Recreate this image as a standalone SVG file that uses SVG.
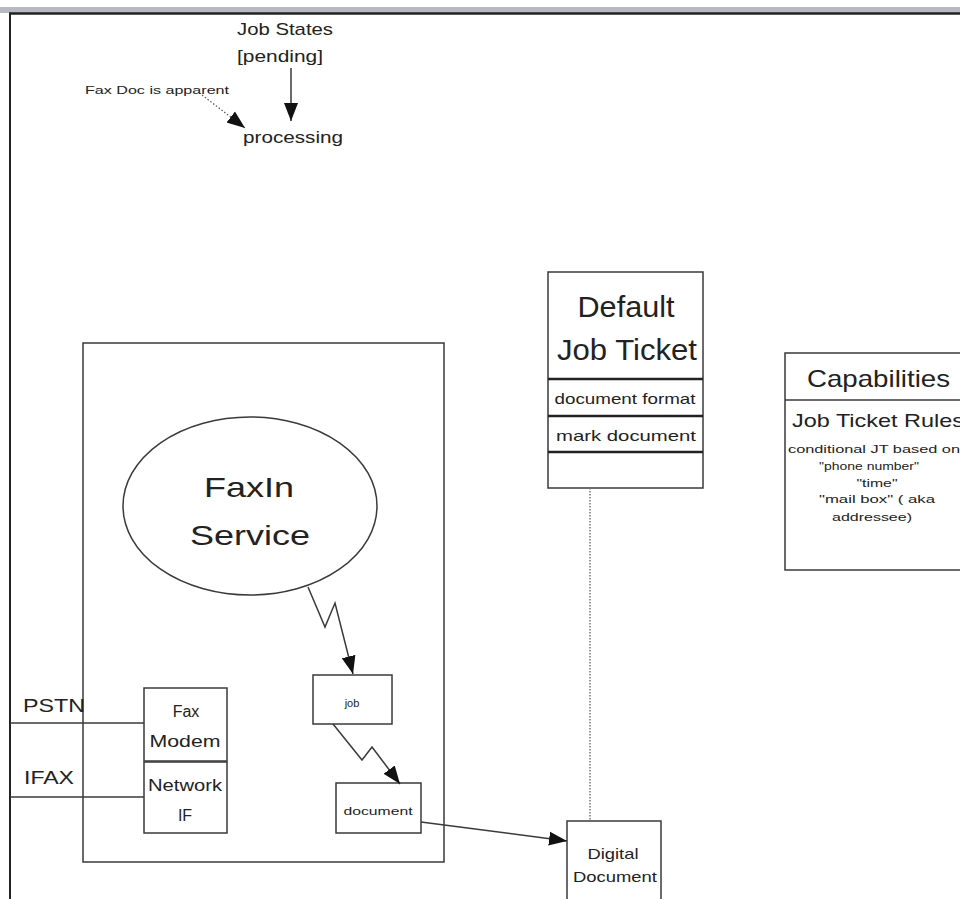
<svg xmlns="http://www.w3.org/2000/svg" width="960" height="899" viewBox="0 0 960 899">
<style>
.ln{fill:none;stroke:#3a3a3a;stroke-width:1.5}
.bx{fill:#fff;stroke:#3a3a3a;stroke-width:1.5}
text{font-family:"Liberation Sans",Arial,sans-serif;fill:#222}
.c{text-anchor:middle}
</style>
<defs>
<marker id="ah" markerUnits="userSpaceOnUse" markerWidth="20" markerHeight="16" refX="18" refY="8" orient="auto">
<path d="M0,1 L18,8 L0,15 Z" fill="#111"/>
</marker>
</defs>
<rect width="960" height="899" fill="#fff"/>
<g id="frame">
<rect x="0" y="7" width="960" height="6" fill="#b8b8c0"/>
<line x1="9" y1="13.5" x2="960" y2="13.5" stroke="#222" stroke-width="2.5"/>
<line x1="10" y1="13" x2="10" y2="899" stroke="#222" stroke-width="2"/>
</g>
<g id="job-states">
<text x="285" y="35" class="c" font-size="17" textLength="96" lengthAdjust="spacingAndGlyphs">Job States</text>
<text x="280" y="62" class="c" font-size="17" textLength="86" lengthAdjust="spacingAndGlyphs">[pending]</text>
<text x="293" y="143" class="c" font-size="17" textLength="100" lengthAdjust="spacingAndGlyphs">processing</text>
</g>
<g id="fax-doc-note">
<text x="157" y="94" class="c" font-size="11" textLength="144" lengthAdjust="spacingAndGlyphs">Fax Doc is apparent</text>
</g>
<g id="outer-service">
<rect x="83" y="343" width="361" height="519" class="bx"/>
</g>
<g id="faxin-service">
<ellipse cx="250" cy="506" rx="127" ry="89" class="bx"/>
<text x="249" y="497" class="c" font-size="28" textLength="90" lengthAdjust="spacingAndGlyphs">FaxIn</text>
<text x="250" y="545" class="c" font-size="28" textLength="120" lengthAdjust="spacingAndGlyphs">Service</text>
</g>
<g id="job">
<rect x="313" y="675" width="79" height="49" class="bx"/>
<text x="352" y="707" class="c" font-size="11">job</text>
</g>
<g id="document">
<rect x="336" y="783" width="85" height="50" class="bx"/>
<text x="378" y="815" class="c" font-size="11" textLength="69" lengthAdjust="spacingAndGlyphs">document</text>
</g>
<g id="fax-modem">
<rect x="144" y="688" width="83" height="73" class="bx"/>
<text x="186" y="717" class="c" font-size="16">Fax</text>
<text x="185" y="747" class="c" font-size="16" textLength="71" lengthAdjust="spacingAndGlyphs">Modem</text>
</g>
<g id="network-if">
<rect x="144" y="762" width="83" height="71" class="bx"/>
<text x="185" y="791" class="c" font-size="16" textLength="74" lengthAdjust="spacingAndGlyphs">Network</text>
<text x="185" y="821" class="c" font-size="16">IF</text>
</g>
<g id="pstn">
<text x="23" y="712" font-size="19" textLength="62" lengthAdjust="spacingAndGlyphs">PSTN</text>
</g>
<g id="ifax">
<text x="24" y="784" font-size="19" textLength="50" lengthAdjust="spacingAndGlyphs">IFAX</text>
</g>
<g id="default-job-ticket">
<rect x="548" y="272" width="155" height="216" class="bx"/>
<line x1="548" y1="379" x2="703" y2="379" stroke="#222" stroke-width="2.5"/>
<line x1="548" y1="416" x2="703" y2="416" stroke="#222" stroke-width="2.5"/>
<line x1="548" y1="452" x2="703" y2="452" stroke="#222" stroke-width="2.5"/>
<text x="626" y="317" class="c" font-size="30" textLength="97" lengthAdjust="spacingAndGlyphs">Default</text>
<text x="627" y="360" class="c" font-size="30" textLength="140" lengthAdjust="spacingAndGlyphs">Job Ticket</text>
<text x="625" y="404" class="c" font-size="15" textLength="141" lengthAdjust="spacingAndGlyphs">document format</text>
<text x="626" y="441" class="c" font-size="15" textLength="140" lengthAdjust="spacingAndGlyphs">mark document</text>
</g>
<g id="capabilities">
<rect x="785" y="353" width="190" height="217" class="bx"/>
<line x1="785" y1="400" x2="960" y2="400" class="ln"/>
<text x="807" y="387" font-size="24" textLength="143" lengthAdjust="spacingAndGlyphs">Capabilities</text>
<text x="792" y="427" font-size="19" textLength="172" lengthAdjust="spacingAndGlyphs">Job Ticket Rules</text>
<text x="788" y="453" font-size="11" textLength="172" lengthAdjust="spacingAndGlyphs">conditional JT based on</text>
<text x="869" y="470" class="c" font-size="11" textLength="100" lengthAdjust="spacingAndGlyphs">"phone number"</text>
<text x="877" y="487" class="c" font-size="11" textLength="41" lengthAdjust="spacingAndGlyphs">"time"</text>
<text x="819" y="503" font-size="11" textLength="116" lengthAdjust="spacingAndGlyphs">"mail box"  ( aka</text>
<text x="832" y="521" font-size="11" textLength="80" lengthAdjust="spacingAndGlyphs">addressee)</text>
</g>
<g id="digital-document">
<rect x="567" y="821" width="94" height="90" class="bx"/>
<text x="613" y="859" class="c" font-size="15" textLength="51" lengthAdjust="spacingAndGlyphs">Digital</text>
<text x="615" y="882" class="c" font-size="15" textLength="84" lengthAdjust="spacingAndGlyphs">Document</text>
</g>
<g id="connectors">
<line x1="291" y1="68" x2="291" y2="121" class="ln" marker-end="url(#ah)"/>
<line x1="202" y1="95" x2="245" y2="128" fill="none" stroke="#555" stroke-width="1.2" stroke-dasharray="1.5,2" marker-end="url(#ah)"/>
<polyline points="308,587 325,627 335,603 353,674" class="ln" marker-end="url(#ah)"/>
<polyline points="333,724 362,760 372,747 400,784" class="ln" marker-end="url(#ah)"/>
<line x1="421" y1="822" x2="567" y2="841" class="ln" marker-end="url(#ah)"/>
<line x1="590" y1="488" x2="590" y2="821" fill="none" stroke="#777" stroke-width="1.5" stroke-dasharray="1.5,1.5"/>
<line x1="10" y1="723" x2="144" y2="723" class="ln"/>
<line x1="10" y1="797" x2="144" y2="797" class="ln"/>
</g>
</svg>
